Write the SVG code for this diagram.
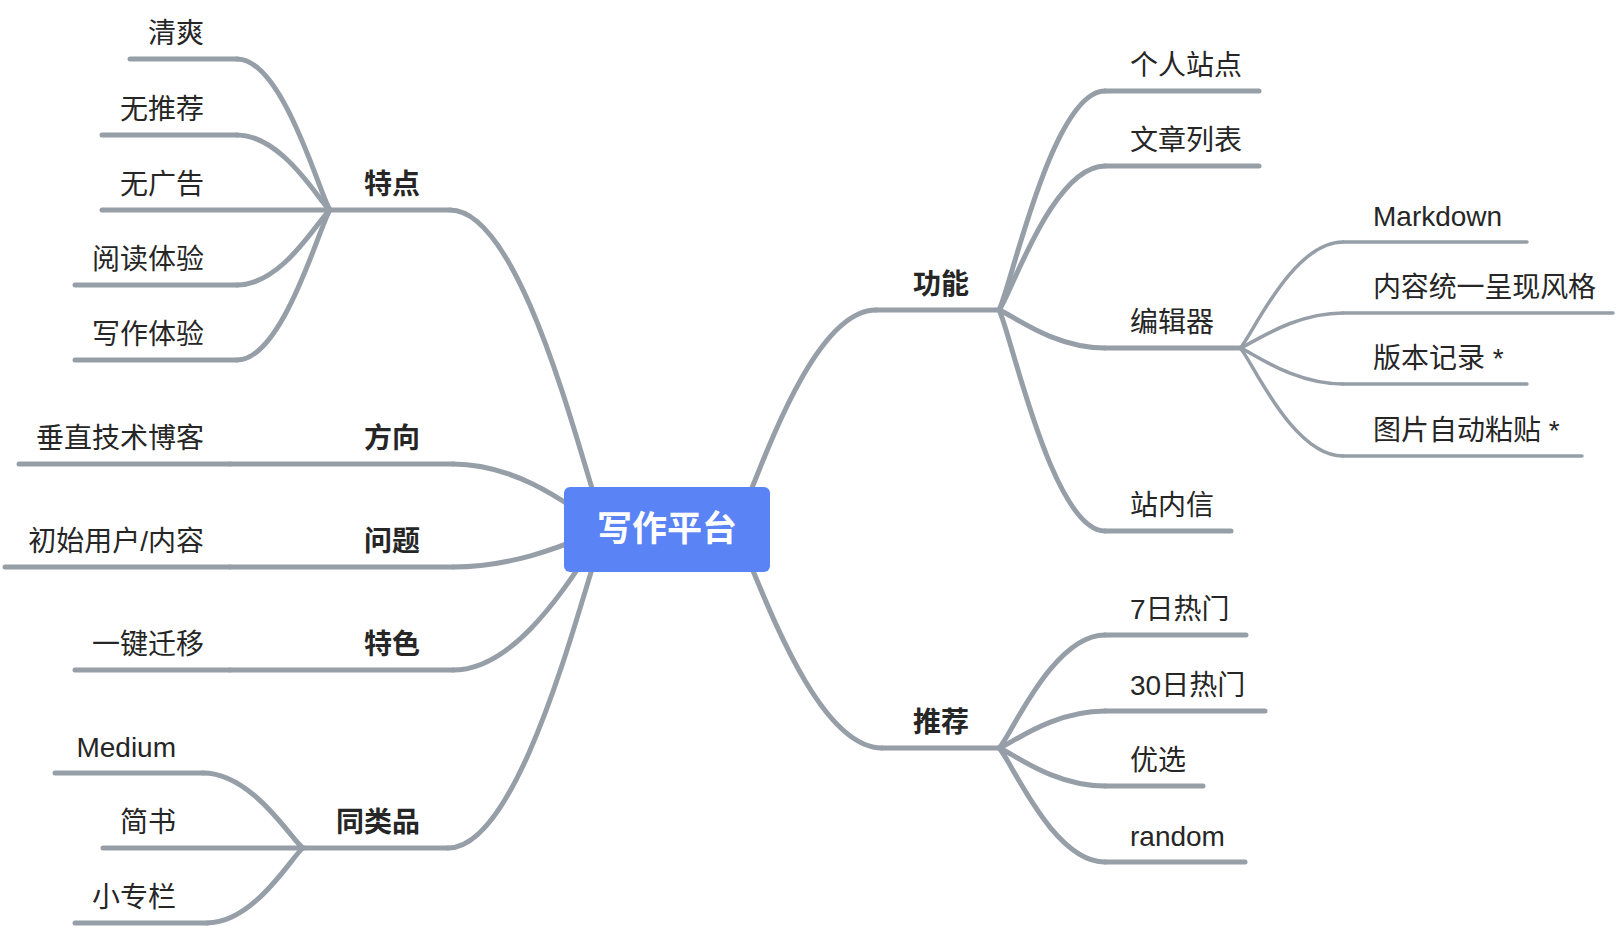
<svg xmlns="http://www.w3.org/2000/svg" width="1620" height="928" viewBox="0 0 1620 928">
<style>
.c{fill:none;stroke:#969ea8;stroke-width:5;stroke-linecap:round;stroke-linejoin:round}
.c3{fill:none;stroke:#969ea8;stroke-width:3.5;stroke-linecap:round}
.t{font-family:"Liberation Sans","Noto Sans CJK SC",sans-serif;font-size:28px;fill:#262626}
.b{font-weight:bold}
.e{text-anchor:end}
.root{font-family:"Liberation Sans","Noto Sans CJK SC",sans-serif;font-size:35px;font-weight:bold;fill:#ffffff;text-anchor:middle}
</style>
<rect width="1620" height="928" fill="#ffffff"/>
<g id="connectors">
<path class="c" d="M606,529 C590.4,503.5 528,210 450,210"/>
<path class="c" d="M606,529 C590.7,523.8 529.5,464 453,464"/>
<path class="c" d="M606,529 C590.7,532 529.5,567 453,567"/>
<path class="c" d="M606,529 C590.7,540.3 529.5,670 453,670"/>
<path class="c" d="M606,529 C590.2,554.5 527,848 448,848"/>
<path class="c" d="M734,529 C748.2,511.5 805,310 876,310"/>
<path class="c" d="M734,529 C748.8,546.5 808,748 882,748"/>
<path class="c" d="M330,210 C320.7,197.9 283.5,59 237,59"/>
<path class="c" d="M330,210 C320.7,204 283.5,135 237,135"/>
<path class="c" d="M330,210 C320.7,216 283.5,285 237,285"/>
<path class="c" d="M330,210 C320.7,222 283.5,360 237,360"/>
<path class="c" d="M303,848 C293,842 253,773 203,773"/>
<path class="c" d="M303,848 C293.4,854 255,923 207,923"/>
<path class="c" d="M999,310 C1009.6,292.5 1052,91 1105,91"/>
<path class="c" d="M999,310 C1009.6,298.5 1052,166 1105,166"/>
<path class="c" d="M999,310 C1009.6,313 1052,348 1105,348"/>
<path class="c" d="M999,310 C1009.6,327.7 1052,531 1105,531"/>
<path class="c3" d="M1240,348 C1250.3,339.5 1291.5,242 1343,242"/>
<path class="c3" d="M1240,348 C1250.3,345.2 1291.5,313 1343,313"/>
<path class="c3" d="M1240,348 C1250.3,350.9 1291.5,384 1343,384"/>
<path class="c3" d="M1240,348 C1250.3,356.6 1291.5,456 1343,456"/>
<path class="c" d="M999,748 C1009.6,739 1052,635 1105,635"/>
<path class="c" d="M999,748 C1009.6,745 1052,711 1105,711"/>
<path class="c" d="M999,748 C1009.6,751 1052,786 1105,786"/>
<path class="c" d="M999,748 C1009.6,757.1 1052,862 1105,862"/>
</g>
<g id="root">
<rect x="564" y="487" width="206" height="85" rx="6" fill="#5a83f5"/>
<text class="root" x="667" y="541">写作平台</text>
</g>
<g id="n-tedian"><path class="c" d="M450,210 H330"/><text class="t b e" x="420" y="194">特点</text></g>
<g id="n-qingshuang"><path class="c" d="M237,59 H130"/><text class="t e" x="204" y="43">清爽</text></g>
<g id="n-wutuijian"><path class="c" d="M237,135 H102"/><text class="t e" x="204" y="119">无推荐</text></g>
<g id="n-wuguanggao"><path class="c" d="M330,210 H102"/><text class="t e" x="204" y="194">无广告</text></g>
<g id="n-yuedu"><path class="c" d="M237,285 H75"/><text class="t e" x="204" y="269">阅读体验</text></g>
<g id="n-xiezuo"><path class="c" d="M237,360 H75"/><text class="t e" x="204" y="344">写作体验</text></g>
<g id="n-fangxiang"><path class="c" d="M453,464 H230"/><text class="t b e" x="420" y="448">方向</text></g>
<g id="n-chuizhi"><path class="c" d="M230,464 H19"/><text class="t e" x="204" y="448">垂直技术博客</text></g>
<g id="n-wenti"><path class="c" d="M453,567 H230"/><text class="t b e" x="420" y="551">问题</text></g>
<g id="n-chushi"><path class="c" d="M230,567 H5"/><text class="t e" x="204" y="551">初始用户/内容</text></g>
<g id="n-tese"><path class="c" d="M453,670 H230"/><text class="t b e" x="420" y="654">特色</text></g>
<g id="n-yijian"><path class="c" d="M230,670 H75"/><text class="t e" x="204" y="654">一键迁移</text></g>
<g id="n-tongleipin"><path class="c" d="M448,848 H303"/><text class="t b e" x="420" y="832">同类品</text></g>
<g id="n-medium"><path class="c" d="M203,773 H55"/><text class="t e" x="176" y="757">Medium</text></g>
<g id="n-jianshu"><path class="c" d="M303,848 H103"/><text class="t e" x="176" y="832">简书</text></g>
<g id="n-xiaozhuanlan"><path class="c" d="M207,923 H75"/><text class="t e" x="176" y="907">小专栏</text></g>
<g id="n-gongneng"><path class="c" d="M876,310 H999"/><text class="t b" x="913" y="294">功能</text></g>
<g id="n-geren"><path class="c" d="M1105,91 H1259"/><text class="t" x="1130" y="75">个人站点</text></g>
<g id="n-wenzhang"><path class="c" d="M1105,166 H1259"/><text class="t" x="1130" y="150">文章列表</text></g>
<g id="n-bianjiqi"><path class="c" d="M1105,348 H1240"/><text class="t" x="1130" y="332">编辑器</text></g>
<g id="n-zhanneixin"><path class="c" d="M1105,531 H1231"/><text class="t" x="1130" y="515">站内信</text></g>
<g id="n-markdown"><path class="c3" d="M1343,242 H1527"/><text class="t" x="1373" y="226">Markdown</text></g>
<g id="n-neirong"><path class="c3" d="M1343,313 H1613"/><text class="t" x="1373" y="297" textLength="223" lengthAdjust="spacing">内容统一呈现风格</text></g>
<g id="n-banben"><path class="c3" d="M1343,384 H1527"/><text class="t" x="1373" y="368">版本记录 *</text></g>
<g id="n-tupian"><path class="c3" d="M1343,456 H1582"/><text class="t" x="1373" y="440">图片自动粘贴 *</text></g>
<g id="n-tuijian"><path class="c" d="M882,748 H999"/><text class="t b" x="913" y="732">推荐</text></g>
<g id="n-7ri"><path class="c" d="M1105,635 H1246"/><text class="t" x="1130" y="619">7日热门</text></g>
<g id="n-30ri"><path class="c" d="M1105,711 H1265"/><text class="t" x="1130" y="695">30日热门</text></g>
<g id="n-youxuan"><path class="c" d="M1105,786 H1203"/><text class="t" x="1130" y="770">优选</text></g>
<g id="n-random"><path class="c" d="M1105,862 H1245"/><text class="t" x="1130" y="846">random</text></g>
</svg>
